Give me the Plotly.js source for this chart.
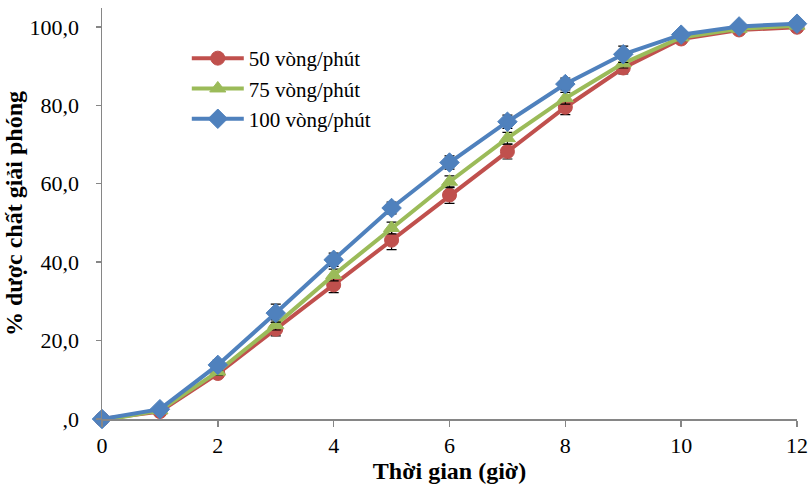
<!DOCTYPE html>
<html>
<head>
<meta charset="utf-8">
<script src="https://cdn.plot.ly/plotly-3.0.1.min.js"></script>
<style>html,body{margin:0;padding:0;background:#fff;}#chart{width:811px;height:487px;}</style>
</head>
<body>
<div id="chart"></div>
<script>
const hours = [0, 1, 2, 3, 4, 5, 6, 7, 8, 9, 10, 11, 12];
const rpm50 = [0, 1.9, 11.6, 22.9, 34.2, 45.6, 57.1, 68.2, 79.5, 89.5, 96.9, 99.2, 99.9];
const rpm75 = [-0.4, 2.2, 12.1, 24.0, 36.7, 48.7, 60.5, 71.6, 81.8, 90.7, 97.3, 99.5, 100.3];
const rpm100 = [0, 2.5, 13.8, 27.0, 40.6, 53.8, 65.4, 75.8, 85.4, 93.0, 98.0, 100.1, 100.8];
const err50 = [0.3, 0.5, 1.0, 1.7, 2.0, 2.4, 2.1, 1.9, 1.9, 1.5, 0.8, 0.6, 0.5];
const err75 = [0.3, 0.5, 1.0, 1.3, 1.5, 1.5, 1.5, 1.5, 1.5, 1.2, 0.8, 0.6, 0.5];
const err100 = [0.3, 0.5, 1.3, 2.3, 1.7, 1.5, 1.7, 1.7, 1.5, 2.1, 0.8, 0.6, 0.5];
const seriesNames = ["50 vòng/phút", "75 vòng/phút", "100 vòng/phút"];
const yTickVals = [0, 20, 40, 60, 80, 100];
const yTickText = [",0", "20,0", "40,0", "60,0", "80,0", "100,0"];
const xTickVals = [0, 2, 4, 6, 8, 10, 12];

const colors = ["#C0504D", "#9BBB59", "#4F81BD"];
const symbols = ["circle", "triangle-up", "diamond"];
const sizes = [14, 14, 15];
const ys = [rpm50, rpm75, rpm100];
const errs = [err50, err75, err100];

const traces = ys.map((y, i) => ({
  x: hours, y: y, name: seriesNames[i], type: "scatter", mode: "lines+markers",
  cliponaxis: false,
  line: {color: colors[i], width: 4},
  marker: {color: colors[i], symbol: symbols[i], size: sizes[i], line: {color: colors[i], width: 1}},
  error_y: {type: "data", array: errs[i], visible: true, color: "#000", thickness: 1.2, width: 5}
}));

const font = "Liberation Serif";
const layout = {
  width: 811, height: 487,
  margin: {l: 102, r: 14, t: 8, b: 68},
  paper_bgcolor: "#fff", plot_bgcolor: "#fff",
  font: {family: font, size: 20, color: "#000"},
  showlegend: true,
  legend: {x: 0.122, y: 0.927, xanchor: "left", yanchor: "top", bgcolor: "rgba(0,0,0,0)",
           font: {family: "Times New Roman, Liberation Serif, serif", size: 21, color: "#000"}, tracegroupgap: 0, itemwidth: 52},
  xaxis: {
    range: [0, 12], tickvals: xTickVals, ticktext: xTickVals.map(String),
    showgrid: false, zeroline: false, showline: true, linecolor: "#868686", linewidth: 1.5,
    ticks: "outside", ticklen: 6, tickcolor: "#868686", tickwidth: 1.5,
    tickfont: {family: font, size: 22, color: "#000"},
    title: {text: "<b>Thời gian (giờ)</b>", font: {family: font, size: 24, color: "#000"}, standoff: 2}
  },
  yaxis: {
    range: [0, 104.8], tickvals: yTickVals, ticktext: yTickText,
    showgrid: false, zeroline: false, showline: true, linecolor: "#868686", linewidth: 1.5,
    ticks: "outside", ticklen: 5, tickcolor: "#868686", tickwidth: 1.5,
    ticklabelstandoff: 12,
    tickfont: {family: font, size: 22, color: "#000"},
    title: {text: "<b>% dược chất giải phóng</b>", font: {family: font, size: 24, color: "#000"}, standoff: 0}
  }
};

Plotly.newPlot("chart", traces, layout, {displayModeBar: false, staticPlot: true});
</script>
</body>
</html>
